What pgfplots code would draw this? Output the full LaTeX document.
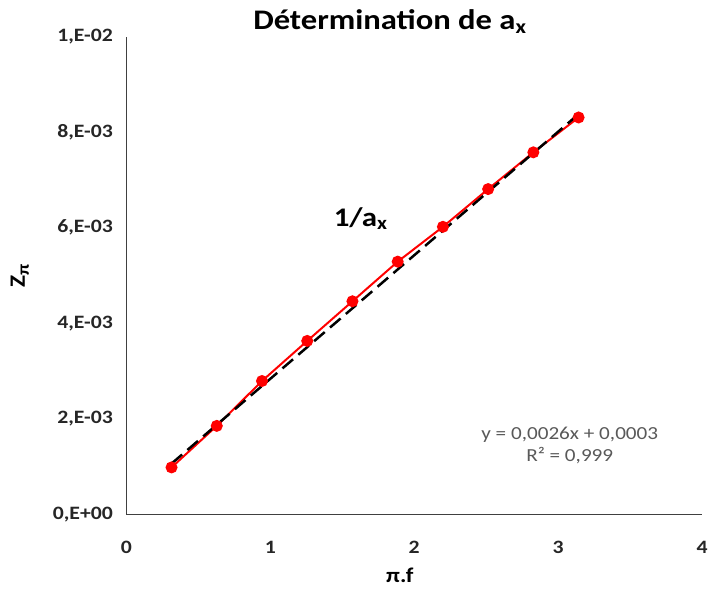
\documentclass[border=0pt]{standalone}
\usepackage{fontspec}
\setmainfont{Carlito}[FakeStretch=1.15]
\usepackage{pgfplots}
\pgfplotsset{compat=1.18}
\definecolor{ptred}{RGB}{255,0,0}
\definecolor{axgray}{RGB}{64,64,64}
\definecolor{eqgray}{RGB}{89,89,89}
\begin{document}
\begin{tikzpicture}[x=1pt,y=1pt]
\begin{axis}[
  at={(0,0)}, anchor=south west,
  scale only axis, width=579pt, height=480pt,
  xmin=0, xmax=4, ymin=0, ymax=0.01,
  axis x line*=bottom, axis y line*=left,
  axis line style={axgray, line width=1pt},
  major tick length=0pt,
  xtick={0,1,2,3,4}, xticklabels={0,1,2,3,4},
  ytick={0,0.002,0.004,0.006,0.008,0.01},
  yticklabels={{0,E+00},{2,E-03},{4,E-03},{6,E-03},{8,E-03},{1,E-02}},
  ticklabel style={font=\bfseries\fontsize{19}{19}\selectfont, text=black!85},
  xticklabel style={yshift=-24pt},
  yticklabel style={xshift=-10pt},
  scaled y ticks=false,
  clip=false,
]
\addplot[ptred, line width=2pt, mark=*, mark size=5pt, mark options={fill=ptred, draw=ptred, solid}] coordinates {
(0.3142,0.00098) (0.6283,0.00185) (0.9425,0.00279) (1.2566,0.00363) (1.5708,0.00446)
(1.8850,0.00529) (2.1991,0.00602) (2.5133,0.00681) (2.8274,0.00758) (3.1416,0.00831)};
\addplot[black, line width=2.5pt, dash pattern=on 14pt off 7pt] coordinates {(0.3142,0.00106) (3.1416,0.00838)};
\node[font=\bfseries\fontsize{28.5}{28.5}\selectfont, anchor=base] at (axis description cs:0.4577,1.0146) {Détermination de a\textsubscript{x}};
\node[font=\bfseries\fontsize{27}{27}\selectfont] at (axis description cs:0.407,0.619) {1/a\textsubscript{x}};
\node[font=\fontsize{18.5}{22}\selectfont, text=eqgray, align=center] at (axis description cs:0.77,0.144) {y = 0,0026x + 0,0003\\R² = 0,999};
\node[font=\bfseries\fontsize{21}{21}\selectfont] at (axis description cs:0.475,-0.127) {π.f};
\node[rotate=90, font=\bfseries\fontsize{22}{22}\selectfont] at (axis description cs:-0.185,0.5) {Z\raisebox{-4pt}{\fontsize{17}{17}\selectfont π}};
\end{axis}
\path[use as bounding box] (-127,-82) rectangle (584,517);
\end{tikzpicture}
\end{document}
